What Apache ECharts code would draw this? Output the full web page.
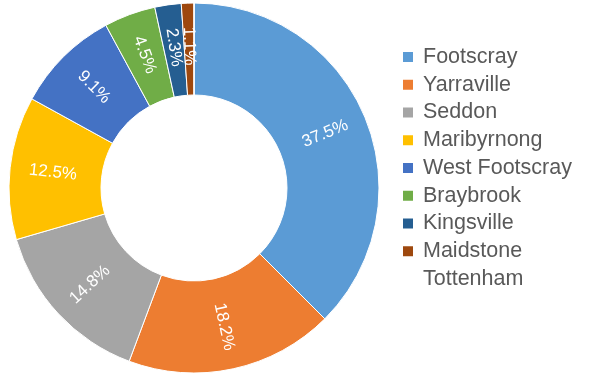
<!DOCTYPE html>
<html>
<head>
<meta charset="utf-8">
<script src="https://cdn.jsdelivr.net/npm/echarts@6/dist/echarts.min.js"></script>
<style>html,body{margin:0;padding:0;background:#fff;}#c{width:594px;height:378px;}</style>
</head>
<body>
<div id="c"></div>
<script>
const categories = ['Footscray','Yarraville','Seddon','Maribyrnong','West Footscray','Braybrook','Kingsville','Maidstone','Tottenham'];
const values = [37.5, 18.2, 14.8, 12.5, 9.1, 4.5, 2.3, 1.1, 0];
const colors = ['#5B9BD5','#ED7D31','#A5A5A5','#FFC000','#4472C4','#70AD47','#255E91','#9E480E','rgba(0,0,0,0)'];

const chart = echarts.init(document.getElementById('c'), null, {renderer:'canvas'});
chart.setOption({
  animation: false,
  legend: {
    orient: 'vertical',
    left: 396,
    top: 41,
    itemWidth: 12,
    itemHeight: 12,
    itemGap: 5.75,
    icon: 'rect',
    textStyle: {fontFamily: 'Liberation Sans, Arial', fontSize: 21.5, lineHeight: 22, color: '#595959', padding: [0,0,0,4]},
    data: categories.map((c, i) => i === categories.length - 1
      ? {name: c, itemStyle: {opacity: 0}}
      : {name: c})
  },
  series: [{
    type: 'pie',
    center: [194, 188],
    radius: [93, 185],
    startAngle: 90,
    clockwise: true,
    avoidLabelOverlap: false,
    minShowLabelAngle: 0,
    labelLayout: {hideOverlap: false},
    itemStyle: {borderColor: '#fff', borderWidth: 1},
    label: {
      show: true,
      position: 'inside',
      rotate: 'radial',
      color: '#fff',
      fontFamily: 'Liberation Sans, Arial',
      fontSize: 17,
      formatter: p => p.value > 0 ? p.value.toFixed(1) + '%' : ''
    },
    labelLine: {show: false},
    emphasis: {disabled: true},
    data: categories.map((c, i) => ({name: c, value: values[i], itemStyle: {color: colors[i]}}))
  }]
});
</script>
</body>
</html>
